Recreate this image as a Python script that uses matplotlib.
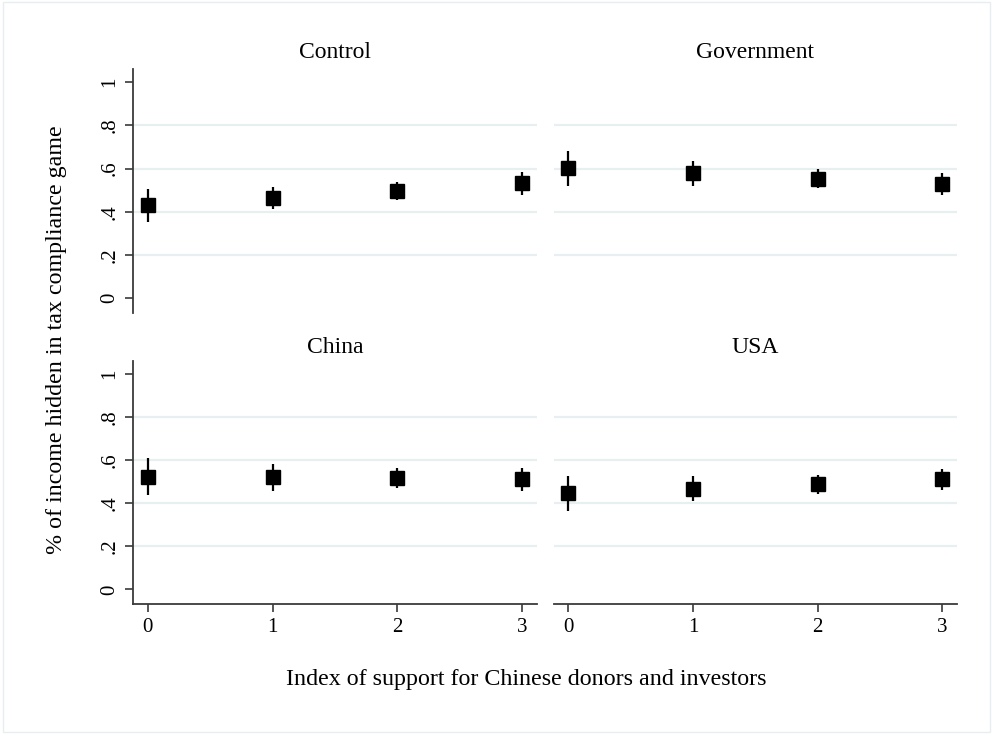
import matplotlib
matplotlib.use("Agg")
import matplotlib.pyplot as plt
from matplotlib.patches import Rectangle

plt.rcParams['font.family'] = ['Liberation Serif', 'DejaVu Serif']

# Support index (x) and estimated share of income hidden, with 95% CIs
support = [0, 1, 2, 3]
panels = ["Control", "Government", "China", "USA"]

control_est = [0.432, 0.466, 0.498, 0.532]
control_lo = [0.355, 0.412, 0.455, 0.478]
control_hi = [0.505, 0.517, 0.540, 0.586]

government_est = [0.605, 0.579, 0.552, 0.527]
government_lo = [0.521, 0.520, 0.509, 0.478]
government_hi = [0.684, 0.637, 0.597, 0.579]

china_est = [0.524, 0.521, 0.516, 0.512]
china_lo = [0.439, 0.457, 0.470, 0.459]
china_hi = [0.609, 0.581, 0.563, 0.563]

usa_est = [0.447, 0.467, 0.490, 0.513]
usa_lo = [0.363, 0.409, 0.445, 0.464]
usa_hi = [0.526, 0.526, 0.533, 0.561]

y_ticks = [0, 0.2, 0.4, 0.6, 0.8, 1.0]
y_tick_labels = ["0", ".2", ".4", ".6", ".8", "1"]
x_tick_labels = ["0", "1", "2", "3"]

series = {
    "Control": (control_est, control_lo, control_hi),
    "Government": (government_est, government_lo, government_hi),
    "China": (china_est, china_lo, china_hi),
    "USA": (usa_est, usa_lo, usa_hi),
}

W, H = 992, 734
fig = plt.figure(figsize=(W / 100, H / 100), dpi=100)
fig.patch.set_facecolor("white")

# faint outer frame
fig.add_artist(Rectangle((3 / W, 1 - 732 / H), 987 / W, 730 / H,
                         transform=fig.transFigure, fill=False,
                         edgecolor="#e6eef0", linewidth=1.0))

# panel boxes in pixels: left, right, top, bottom
boxes = {
    "Control": (133.3, 536.7, 69.3, 313.4),
    "Government": (554.0, 956.7, 69.3, 313.4),
    "China": (133.3, 536.7, 361.4, 604.4),
    "USA": (554.0, 956.7, 361.4, 604.4),
}

grid_col = "#e7eff1"
axis_col = "#3a3a3a"

for i, name in enumerate(panels):
    l, r, t, b = boxes[name]
    ax = fig.add_axes([l / W, 1 - b / H, (r - l) / W, (b - t) / H])
    est, lo, hi = series[name]
    yerr = [[e - a for e, a in zip(est, lo)], [h - e for e, h in zip(est, hi)]]
    ax.errorbar(support, est, yerr=yerr, fmt="s", color="black",
                markersize=10, elinewidth=1.6, capsize=0, zorder=3)
    ax.set_xlim(-0.115, 3.115)
    ax.set_ylim(-0.07, 1.06)
    for gy in [0.2, 0.4, 0.6, 0.8]:
        ax.axhline(gy, color=grid_col, linewidth=1.6, zorder=1)
    for s in ax.spines.values():
        s.set_visible(False)
    left_col = i % 2 == 0
    bottom_row = i >= 2
    if left_col:
        ax.spines["left"].set_visible(True)
        ax.spines["left"].set_color(axis_col)
        ax.spines["left"].set_linewidth(1.3)
        ax.set_yticks(y_ticks)
        ax.set_yticklabels(y_tick_labels, rotation=90, va="center", fontsize=15)
        ax.tick_params(axis="y", length=6, width=1.2, color=axis_col, pad=4)
    else:
        ax.set_yticks([])
    if bottom_row:
        ax.spines["bottom"].set_visible(True)
        ax.spines["bottom"].set_color(axis_col)
        ax.spines["bottom"].set_linewidth(1.3)
        ax.set_xticks(support)
        ax.set_xticklabels(x_tick_labels, fontsize=15)
        ax.tick_params(axis="x", length=6, width=1.2, color=axis_col, pad=4)
    else:
        ax.set_xticks([])
    title_y = 52 if i < 2 else 347
    fig.text((l + r) / 2 / W, 1 - title_y / H, name,
             ha="center", va="center", fontsize=17)

fig.text(57 / W, 1 - 340 / H, "% of income hidden in tax compliance game",
         rotation=90, ha="center", va="center", fontsize=17.3)
fig.text(526 / W, 1 - 680 / H, "Index of support for Chinese donors and investors",
         ha="center", va="center", fontsize=17.3)

fig.savefig("out.png", dpi=100)
